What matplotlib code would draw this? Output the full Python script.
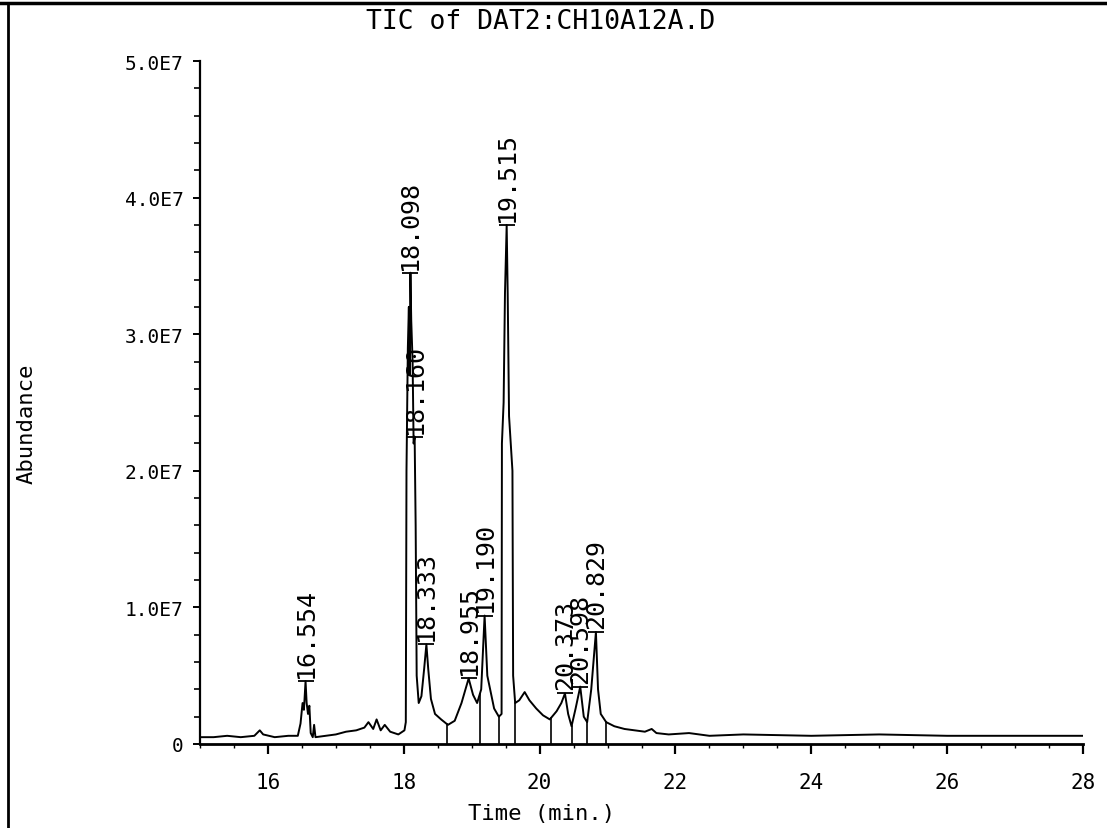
import numpy as np
import matplotlib
matplotlib.use('Agg')
from matplotlib import pyplot as plt
from matplotlib.lines import Line2D
from matplotlib.ticker import MultipleLocator, FixedLocator

plt.rcParams['font.family'] = 'DejaVu Sans Mono'

# TIC trace, time in minutes, abundance in units of 1E7
time_min = [15.00, 15.20, 15.40, 15.60, 15.80, 15.88, 15.93, 16.10, 16.30, 16.44,
            16.48, 16.51, 16.53, 16.554, 16.57, 16.59, 16.61, 16.63, 16.66, 16.68,
            16.70, 16.85, 17.00, 17.15, 17.30, 17.42, 17.48, 17.55, 17.60, 17.66,
            17.72, 17.80, 17.92, 18.01, 18.03, 18.04, 18.06, 18.075, 18.085, 18.098,
            18.11, 18.13, 18.145, 18.160, 18.175, 18.19, 18.22, 18.26, 18.30, 18.333,
            18.36, 18.40, 18.46, 18.55, 18.65, 18.75, 18.85, 18.955, 19.02, 19.08,
            19.14, 19.190, 19.23, 19.28, 19.33, 19.40, 19.44, 19.445, 19.47, 19.49,
            19.515, 19.53, 19.55, 19.60, 19.61, 19.64, 19.70, 19.78, 19.85, 19.95,
            20.05, 20.15, 20.25, 20.32, 20.373, 20.42, 20.47, 20.53, 20.598, 20.65,
            20.70, 20.76, 20.829, 20.86, 20.90, 20.98, 21.10, 21.25, 21.40, 21.55,
            21.65, 21.72, 21.90, 22.20, 22.50, 23.00, 24.00, 25.00, 26.00, 27.00,
            28.00]
abund_e7 = [0.05, 0.05, 0.06, 0.05, 0.06, 0.10, 0.07, 0.05, 0.06, 0.06,
            0.15, 0.30, 0.25, 0.46, 0.30, 0.22, 0.28, 0.08, 0.05, 0.14,
            0.05, 0.06, 0.07, 0.09, 0.10, 0.12, 0.16, 0.11, 0.18, 0.10,
            0.14, 0.09, 0.07, 0.10, 0.16, 2.00, 2.90, 3.20, 2.70, 3.45,
            3.10, 2.80, 2.20, 2.25, 1.60, 0.50, 0.30, 0.35, 0.55, 0.73,
            0.55, 0.33, 0.22, 0.18, 0.14, 0.17, 0.30, 0.48, 0.36, 0.30,
            0.40, 0.94, 0.50, 0.38, 0.26, 0.20, 0.22, 2.20, 2.50, 3.30,
            3.80, 3.30, 2.40, 2.00, 0.50, 0.30, 0.32, 0.38, 0.32, 0.26,
            0.21, 0.18, 0.24, 0.30, 0.37, 0.22, 0.13, 0.26, 0.42, 0.20,
            0.16, 0.40, 0.82, 0.40, 0.22, 0.16, 0.13, 0.11, 0.10, 0.09,
            0.11, 0.08, 0.07, 0.08, 0.06, 0.07, 0.06, 0.07, 0.06, 0.06,
            0.06]

# labelled peaks
peak_times = [16.554, 18.098, 18.160, 18.333, 18.955, 19.190, 19.515, 20.373, 20.598, 20.829]
peak_e7 = [0.46, 3.45, 2.25, 0.73, 0.48, 0.94, 3.80, 0.37, 0.42, 0.82]

# integration drop lines
drop_times = [18.63, 19.12, 19.40, 19.64, 20.17, 20.47, 20.70, 20.98]

t = np.array(time_min)
a = np.array(abund_e7) * 1e7

fig = plt.figure(figsize=(11.07, 8.29), dpi=100)
ax = fig.add_axes([200/1107, 1 - 745/829, 883/1107, 683/829])

ax.plot(t, a, color='black', lw=1.4)
for td in drop_times:
    ax.plot([td, td], [0, np.interp(td, t, a)], color='black', lw=1.2)

for pt, pe in zip(peak_times, peak_e7):
    ax.plot(pt, pe*1e7, marker='_', ms=11, mew=1.3, color='black')
    ax.text(pt, pe*1e7 + 0.03e7, '%.3f' % pt, rotation=90, ha='center', va='bottom',
            fontsize=18, color='black')

ax.set_xlim(15, 28)
ax.set_ylim(0, 5e7)
ax.spines['top'].set_visible(False)
ax.spines['right'].set_visible(False)
ax.spines['left'].set_linewidth(1.6)
ax.spines['bottom'].set_linewidth(2.0)

ax.xaxis.set_major_locator(FixedLocator([16, 18, 20, 22, 24, 26, 28]))
ax.xaxis.set_minor_locator(MultipleLocator(0.5))
ax.yaxis.set_minor_locator(MultipleLocator(0.2e7))
ax.set_yticks([0, 1e7, 2e7, 3e7, 4e7, 5e7])
ax.set_yticklabels(['0', '1.0E7', '2.0E7', '3.0E7', '4.0E7', '5.0E7'])

ax.tick_params(axis='y', which='major', direction='out', length=5, width=1.4, pad=7, labelsize=14)
ax.tick_params(axis='y', which='minor', direction='out', length=4, width=1.2)
ax.tick_params(axis='x', which='major', direction='out', length=7, width=1.6, pad=13, labelsize=15)
ax.tick_params(axis='x', which='minor', direction='out', length=3, width=1.0)

ax.set_xlabel('Time (min.)', fontsize=16)
ax.xaxis.set_label_coords(0.387, -0.086)
ax.set_ylabel('Abundance', fontsize=16)
ax.yaxis.set_label_coords(-0.185, 0.47)

fig.text(541/1107, 1 - 22/829, 'TIC of DAT2:CH10A12A.D', ha='center', va='center', fontsize=19)

# scanned page border (top and left)
fig.add_artist(Line2D([0, 1], [1 - 4/829, 1 - 4/829], color='black', lw=2.5))
fig.add_artist(Line2D([8/1107, 8/1107], [0, 1 - 4/829], color='black', lw=2.0))

fig.savefig('out.png', dpi=100)
